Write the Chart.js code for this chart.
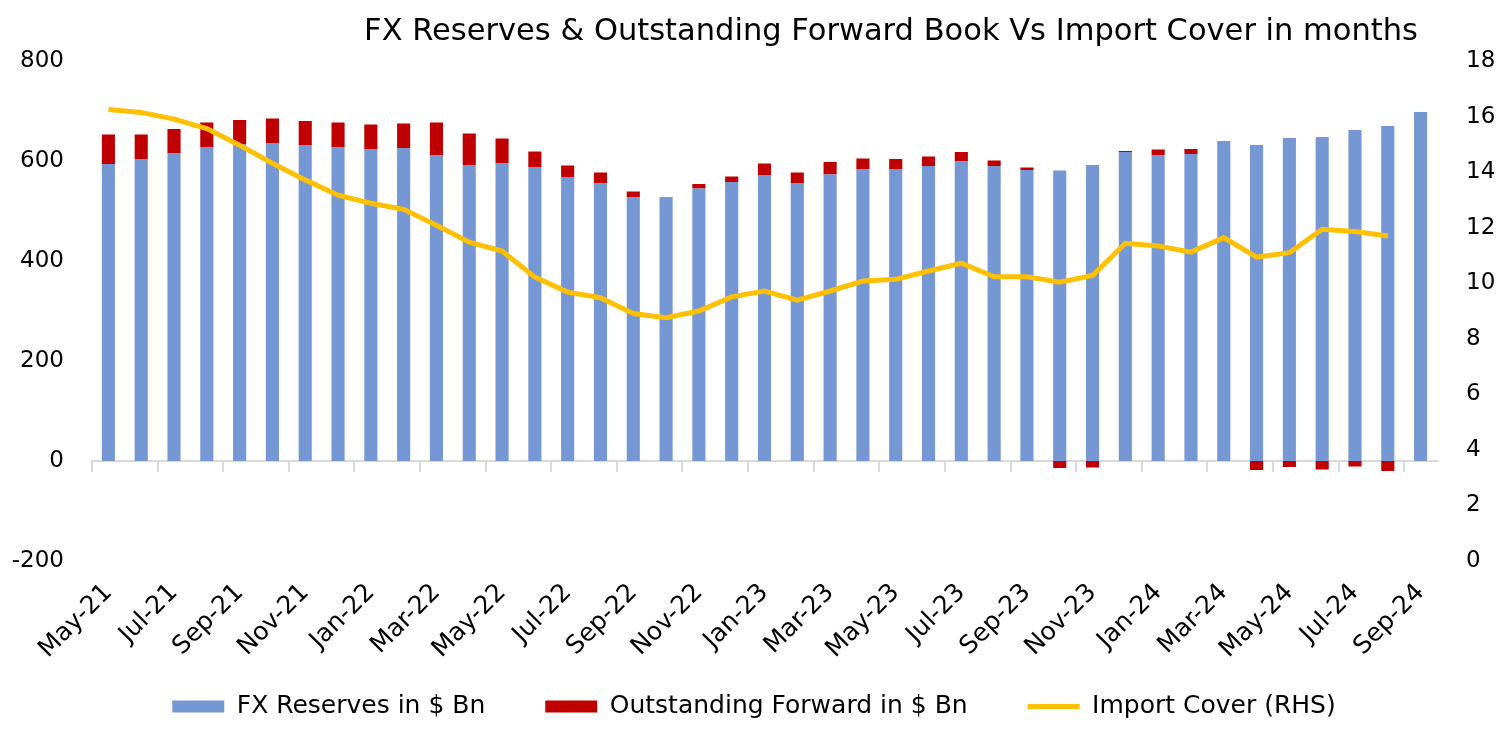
<!DOCTYPE html>
<html lang="en">
<head>
  <meta charset="UTF-8" />
  <title>FX Reserves &amp; Outstanding Forward Book Vs Import Cover</title>
  <script src="https://cdn.jsdelivr.net/npm/chart.js"></script>
  <style>
    html, body {
      margin: 0;
      padding: 0;
      background: #fff;
    }

    .chart-wrap {
      width: 1509px;
      height: 729px;
    }
  </style>
</head>
<body>
  <div class="chart-wrap">
    <canvas id="fxChart"></canvas>
  </div>

  <script>
    const months = [
      'May-21', 'Jun-21', 'Jul-21', 'Aug-21', 'Sep-21', 'Oct-21', 'Nov-21', 'Dec-21',
      'Jan-22', 'Feb-22', 'Mar-22', 'Apr-22', 'May-22', 'Jun-22', 'Jul-22', 'Aug-22',
      'Sep-22', 'Oct-22', 'Nov-22', 'Dec-22', 'Jan-23', 'Feb-23', 'Mar-23', 'Apr-23',
      'May-23', 'Jun-23', 'Jul-23', 'Aug-23', 'Sep-23', 'Oct-23', 'Nov-23', 'Dec-23',
      'Jan-24', 'Feb-24', 'Mar-24', 'Apr-24', 'May-24', 'Jun-24', 'Jul-24', 'Aug-24',
      'Sep-24'
    ];

    // $ Bn
    const fxReserves = [
      594, 604, 615, 628, 634, 636, 632, 628, 624, 626,
      612, 592, 596, 588, 568, 556, 528, 527, 545, 558,
      572, 556, 573, 584, 584, 590, 599, 590, 582, 581,
      592, 618, 612, 614, 640, 632, 646, 648, 662, 670,
      698
    ];

    // $ Bn, net forward position (negative = net short)
    const forwardBook = [
      59, 49, 49, 49, 48, 49, 48, 49, 49, 49,
      65, 63, 49, 31, 23, 21, 11, 1, 9, 11,
      23, 21, 25, 21, 20, 19, 19, 11, 5, -14,
      -13, 2, 11, 10, 0, -18, -12, -17, -11, -20,
      0
    ];

    // months of imports
    const importCover = [
      16.25, 16.15, 15.91, 15.57, 14.97, 14.32, 13.72, 13.17, 12.88, 12.66,
      12.09, 11.48, 11.16, 10.22, 9.68, 9.48, 8.91, 8.76, 9.0, 9.51,
      9.72, 9.39, 9.72, 10.08, 10.14, 10.44, 10.72, 10.23, 10.23, 10.04,
      10.28, 11.44, 11.34, 11.12, 11.64, 10.94, 11.1, 11.94, 11.86, 11.7,
      null
    ];

    Chart.defaults.font.family = '"DejaVu Sans", sans-serif';
    Chart.defaults.color = '#000';

    const layoutTweaks = {
      id: 'layoutTweaks',
      afterLayout(chart) {
        // month labels hang down into the legend gap, so don't clip them to the axis box
        chart.scales.x.bottom = chart.height;
        // title ends a bit short of the plot's right edge
        chart.titleBlock.right = chart.chartArea.right - 19;
      }
    };

    new Chart(document.getElementById('fxChart'), {
      type: 'bar',
      data: {
        labels: months,
        datasets: [
          {
            label: 'FX Reserves in $ Bn',
            data: fxReserves,
            backgroundColor: '#7597d3',
            barPercentage: 0.4,
            categoryPercentage: 1,
            xAxisID: 'x',
            yAxisID: 'y',
            pointStyle: 'rect',
            order: 1
          },
          {
            label: 'Outstanding Forward in $ Bn',
            data: forwardBook,
            backgroundColor: '#c00000',
            barPercentage: 0.4,
            categoryPercentage: 1,
            xAxisID: 'x',
            yAxisID: 'y',
            pointStyle: 'rect',
            order: 1
          },
          {
            type: 'line',
            label: 'Import Cover (RHS)',
            data: importCover,
            borderColor: '#ffc000',
            backgroundColor: '#ffc000',
            borderWidth: 5,
            pointRadius: 0,
            tension: 0,
            xAxisID: 'x',
            yAxisID: 'y1',
            pointStyle: 'line',
            order: 0
          }
        ]
      },
      options: {
        responsive: true,
        maintainAspectRatio: false,
        animation: false,
        layout: {
          padding: { left: 12, right: 13, top: 0, bottom: 0 }
        },
        scales: {
          x: {
            stacked: true,
            grid: { display: false },
            border: { display: false },
            ticks: {
              autoSkip: false,
              maxRotation: 45,
              minRotation: 45,
              padding: 9,
              font: { size: 25 },
              callback: (val, i) => (i % 2 === 0 ? months[i] : '')
            },
            afterFit: scale => {
              scale.height = 73;
            }
          },
          // zero line with tick marks every two months
          xZero: {
            axis: 'x',
            type: 'category',
            position: { y: 0 },
            grid: {
              offset: true,
              drawOnChartArea: false,
              tickLength: 10,
              lineWidth: 2,
              color: ctx => (ctx.index % 2 === 0 ? '#d9d9d9' : 'rgba(0,0,0,0)')
            },
            border: { color: '#d9d9d9', width: 2 },
            ticks: { display: false, autoSkip: false }
          },
          y: {
            stacked: true,
            position: 'left',
            min: -200,
            max: 800,
            grid: { display: false, drawTicks: false },
            border: { display: false },
            ticks: {
              stepSize: 200,
              padding: 28,
              font: { size: 23 }
            },
            afterFit: scale => {
              scale.width = 80;
            }
          },
          y1: {
            position: 'right',
            min: 0,
            max: 18,
            grid: { display: false, drawTicks: false },
            border: { display: false },
            ticks: {
              stepSize: 2,
              padding: 29,
              font: { size: 23 }
            },
            afterFit: scale => {
              scale.width = 59;
            }
          }
        },
        plugins: {
          title: {
            display: true,
            text: 'FX Reserves & Outstanding Forward Book Vs Import Cover in months',
            align: 'end',
            fullSize: false,
            color: '#000',
            font: { size: 30.5, weight: 'normal' },
            padding: { top: 14, bottom: 10.4 }
          },
          legend: {
            position: 'bottom',
            labels: {
              usePointStyle: true,
              pointStyleWidth: 52,
              boxHeight: 12,
              padding: 60,
              font: { size: 25 },
              sort: (a, b) => a.datasetIndex - b.datasetIndex
            }
          },
          tooltip: { enabled: false }
        }
      },
      plugins: [layoutTweaks]
    });
  </script>
</body>
</html>
